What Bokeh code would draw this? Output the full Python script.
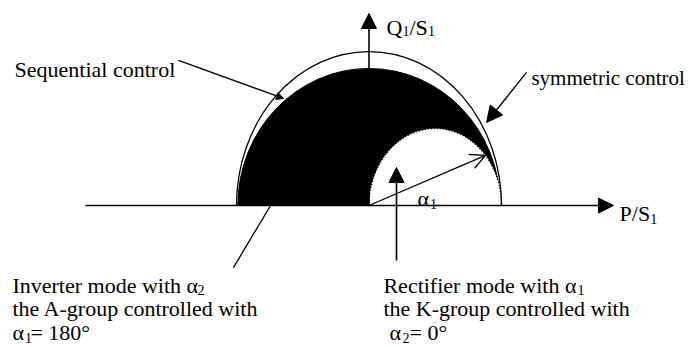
from bokeh.plotting import figure
from bokeh.models import Range1d, Arrow, NormalHead, OpenHead
from bokeh.core.properties import value
from bokeh.embed import file_html
from bokeh.resources import INLINE

# ---- data (per-unit: P/S1 horizontally, Q1/S1 vertically) ----
symmetric_radius = [1.0]      # symmetric control: unit circle
sequential_P_max = [0.99]     # sequential control envelope (filled region)
sequential_Q_max = [0.89]
rectifier_center = [0.5]      # rectifier-mode circle (alpha2 = 0)
rectifier_radius = [0.5]
alpha1_P = [0.879]            # operating-point vector with angle alpha1
alpha1_Q = [0.325]

FONT = value("Liberation Serif")

p = figure(width=694, height=347, output_backend="svg", toolbar_location=None,
           x_range=Range1d(-2.7811, 2.4566), y_range=Range1d(-0.9221, 1.3312),
           x_axis_location=None, y_axis_location=None, min_border=0)
p.grid.visible = False
p.outline_line_color = None
p.background_fill_color = "white"
p.border_fill_color = "white"

# filled sequential-control region
p.ellipse(x=[0], y=[0], width=[2 * sequential_P_max[0]], height=[2 * sequential_Q_max[0]],
          fill_color="black", line_color="black")
# rectifier circle (white, dotted edge)
p.ellipse(x=rectifier_center, y=[0], width=[2 * rectifier_radius[0]], height=[2 * rectifier_radius[0]],
          fill_color="white", line_color="black", line_dash="1 2", line_width=1.5)
# symmetric control circle
p.ellipse(x=[0], y=[0], width=[2 * symmetric_radius[0]], height=[2 * symmetric_radius[0]],
          fill_color=None, line_color="black", line_width=1.3)
# keep only upper half
p.quad(left=[-3], right=[3], bottom=[-1], top=[0], fill_color="white", line_color=None)

# axes with arrows
p.add_layout(Arrow(x_start=-2.14, y_start=0, x_end=1.845, y_end=0, line_width=1.6,
                   end=NormalHead(size=15, fill_color="black", line_color="black")))
p.add_layout(Arrow(x_start=0, y_start=0, x_end=0, y_end=1.247, line_width=1.6,
                   end=NormalHead(size=15, fill_color="black", line_color="black")))
# alpha1 vector
p.add_layout(Arrow(x_start=0, y_start=0, x_end=alpha1_P[0], y_end=alpha1_Q[0], line_width=1.3,
                   end=OpenHead(size=15, line_width=1.3)))
# leaders
p.add_layout(Arrow(x_start=-1.438, y_start=0.942, x_end=-0.645, y_end=0.695, line_width=1.3,
                   end=NormalHead(size=7, fill_color="black", line_color="black")))
p.add_layout(Arrow(x_start=1.189, y_start=0.864, x_end=0.887, y_end=0.539, line_width=1.3,
                   end=NormalHead(size=16, fill_color="black", line_color="black")))
p.add_layout(Arrow(x_start=0.2075, y_start=-0.357, x_end=0.2075, y_end=0.247, line_width=1.6,
                   end=NormalHead(size=15, fill_color="black", line_color="black")))
p.line([-1.023, -0.743], [-0.403, 0.0], line_color="black", line_width=1.3)


def txt(x, y, s, size=22, dx=0, dy=0):
    p.text(x=[x], y=[y], text=[s], x_offset=dx, y_offset=dy, text_font=FONT,
           text_font_size=f"{size}px", text_color="black",
           text_align="left", text_baseline="alphabetic")


SUB = 14
# axis labels
txt(0.132, 1.159, "Q")
txt(0.132, 1.159, "1", SUB, 16, 4)
txt(0.132, 1.159, "/S", 22, 23)
txt(0.132, 1.159, "1", SUB, 41.5, 4)
txt(1.891, -0.054, "P/S")
txt(1.891, -0.054, "1", SUB, 30.6, 5)
txt(0.366, 0.045, "\u03b1")
txt(0.366, 0.045, "1", SUB, 12.5, 5)

txt(-2.675, 0.880, "Sequential control")
txt(1.226, 0.831, "symmetric control", 21)

# rectifier block
txt(0.109, -0.519, "Rectifier mode with \u03b1")
txt(0.109, -0.519, "1", SUB, 194, 5)
txt(0.109, -0.669, "the K-group controlled with")
txt(0.155, -0.825, "\u03b1")
txt(0.155, -0.825, "2", SUB, 13, 5)
txt(0.155, -0.825, "= 0\u00b0", 22, 20)

# inverter block
txt(-2.691, -0.519, "Inverter mode with \u03b1")
txt(-2.691, -0.519, "2", SUB, 185, 5)
txt(-2.691, -0.669, "the A-group controlled with")
txt(-2.691, -0.825, "\u03b1")
txt(-2.691, -0.825, "1", SUB, 12.5, 5)
txt(-2.691, -0.825, "= 180\u00b0", 22, 18)

open("out.html", "w").write(file_html(p, INLINE))
